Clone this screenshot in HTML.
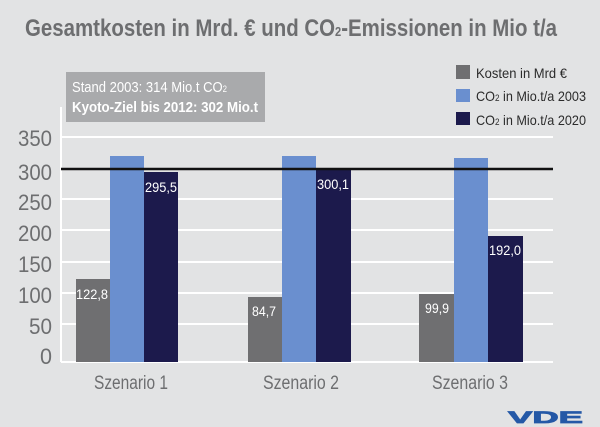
<!DOCTYPE html>
<html><head><meta charset="utf-8"><style>
html,body{margin:0;padding:0;background:#e2e3e4;}
svg{display:block;font-family:"Liberation Sans",sans-serif;}
</style></head><body>
<svg width="600" height="427" viewBox="0 0 600 427">
<rect width="600" height="427" fill="#e2e3e4"/>
<text x="25" y="36" font-size="24" font-weight="bold" fill="#6d6e70" textLength="532" lengthAdjust="spacingAndGlyphs">Gesamtkosten in Mrd. € und CO<tspan font-size="13">2</tspan>-Emissionen in Mio t/a</text>
<!-- info box -->
<rect x="66" y="72" width="199" height="50" fill="#a9aaac"/>
<text x="72" y="92" font-size="15" fill="#fff" textLength="155" lengthAdjust="spacingAndGlyphs">Stand 2003: 314 Mio.t CO<tspan font-size="9">2</tspan></text>
<text x="72" y="112" font-size="15" font-weight="bold" fill="#fff" textLength="186" lengthAdjust="spacingAndGlyphs">Kyoto-Ziel bis 2012: 302 Mio.t</text>
<!-- legend -->
<rect x="456" y="65" width="14" height="14" fill="#6f6f71"/>
<rect x="456" y="89" width="14" height="13" fill="#6a8fcf"/>
<rect x="456" y="112" width="14" height="13" fill="#1c1a4c"/>
<g font-size="14" fill="#2b2b2b">
<text x="476" y="78" textLength="91" lengthAdjust="spacingAndGlyphs">Kosten in Mrd €</text>
<text x="476" y="101" textLength="110" lengthAdjust="spacingAndGlyphs">CO<tspan font-size="9">2</tspan> in Mio.t/a 2003</text>
<text x="476" y="125" textLength="110" lengthAdjust="spacingAndGlyphs">CO<tspan font-size="9">2</tspan> in Mio.t/a 2020</text>
</g>
<!-- grid -->
<g stroke="#fff" stroke-width="2">
<line x1="61" y1="107" x2="61" y2="362"/>
<line x1="61" y1="137" x2="553" y2="137"/>
<line x1="61" y1="199" x2="553" y2="199"/>
<line x1="61" y1="230" x2="553" y2="230"/>
<line x1="61" y1="262" x2="553" y2="262"/>
<line x1="61" y1="293" x2="553" y2="293"/>
<line x1="61" y1="324" x2="553" y2="324"/>
<line x1="61" y1="362" x2="553" y2="362"/>
</g>
<g font-size="22" fill="#6d6e70" text-anchor="end">
<text x="52" y="146" textLength="34" lengthAdjust="spacingAndGlyphs">350</text>
<text x="52" y="180" textLength="34" lengthAdjust="spacingAndGlyphs">300</text>
<text x="52" y="210" textLength="34" lengthAdjust="spacingAndGlyphs">250</text>
<text x="52" y="241" textLength="34" lengthAdjust="spacingAndGlyphs">200</text>
<text x="52" y="272" textLength="34" lengthAdjust="spacingAndGlyphs">150</text>
<text x="52" y="303" textLength="34" lengthAdjust="spacingAndGlyphs">100</text>
<text x="52" y="334" textLength="23" lengthAdjust="spacingAndGlyphs">50</text>
<text x="52" y="364" textLength="12" lengthAdjust="spacingAndGlyphs">0</text>
</g>
<!-- bars -->
<rect x="76" y="279" width="34" height="83" fill="#6f6f71"/>
<rect x="110" y="156" width="34" height="206" fill="#6a8fcf"/>
<rect x="144" y="172" width="34" height="190" fill="#1c1a4c"/>
<rect x="248" y="297" width="34" height="65" fill="#6f6f71"/>
<rect x="282" y="156" width="34" height="206" fill="#6a8fcf"/>
<rect x="316" y="168" width="35" height="194" fill="#1c1a4c"/>
<rect x="419" y="294" width="35" height="68" fill="#6f6f71"/>
<rect x="454" y="158" width="34" height="204" fill="#6a8fcf"/>
<rect x="488" y="236" width="35" height="126" fill="#1c1a4c"/>
<line x1="61" y1="169" x2="553" y2="169" stroke="#111" stroke-width="2.5"/>
<g font-size="14" fill="#fff" text-anchor="middle">
<text x="92" y="299" textLength="32" lengthAdjust="spacingAndGlyphs">122,8</text>
<text x="264" y="316" textLength="24" lengthAdjust="spacingAndGlyphs">84,7</text>
<text x="437" y="313" textLength="24" lengthAdjust="spacingAndGlyphs">99,9</text>
<text x="161" y="192" textLength="32" lengthAdjust="spacingAndGlyphs">295,5</text>
<text x="333" y="189" textLength="32" lengthAdjust="spacingAndGlyphs">300,1</text>
<text x="505" y="255" textLength="32" lengthAdjust="spacingAndGlyphs">192,0</text>
</g>
<g font-size="19" fill="#6d6e70" text-anchor="middle">
<text x="131" y="389" textLength="74" lengthAdjust="spacingAndGlyphs">Szenario 1</text>
<text x="301" y="389" textLength="76" lengthAdjust="spacingAndGlyphs">Szenario 2</text>
<text x="470" y="389" textLength="76" lengthAdjust="spacingAndGlyphs">Szenario 3</text>
</g>
<text x="508" y="423" font-size="17" font-weight="bold" fill="#2458a6" textLength="75" lengthAdjust="spacingAndGlyphs" stroke="#2458a6" stroke-width="0.8">VDE</text>
</svg>
</body></html>
